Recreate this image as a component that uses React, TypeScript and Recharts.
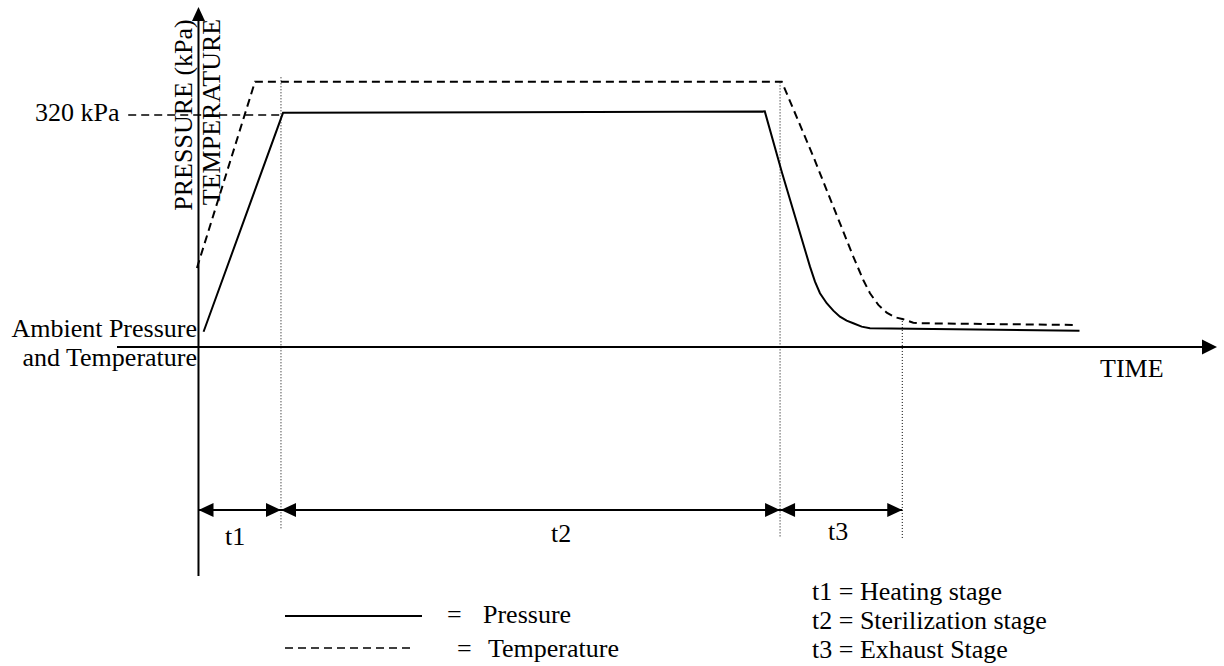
import React from "react";
import {
  LineChart,
  Line,
  XAxis,
  YAxis,
  ReferenceLine,
  ReferenceDot,
} from "recharts";

// time in arbitrary units, level in kPa-ish units (0 = time axis)
const pressureTime = [0.5, 8.3, 55.6, 57.3, 60.04, 60.53, 61.02, 61.68, 62.33, 62.98, 63.64, 64.29, 65.11, 65.93, 86.5];
const pressureLevel = [21, 323, 325, 240, 110.8, 90.1, 74.1, 60.3, 50.1, 41.8, 36.3, 32.7, 28.0, 25.8, 22.5];

const temperatureTime = [-0.15, 5.55, 57.27, 60.37, 62.33, 64.29, 65.27, 65.93, 66.75, 67.57, 68.39, 69.2, 70.18, 70.84, 86.2];
const temperatureLevel = [109, 366, 366, 262.5, 193.5, 124.6, 92.4, 74.1, 58.0, 47.3, 41.0, 38.2, 33.5, 32.7, 30.3];

const stageNames = ["t1", "t2", "t3"];
const stageEnds = [8.1, 57.1, 69.1];
const stageGuideTop = [372, 365, 40];
const stageGuideBottom = [-252, -262, -266];
const stageDescriptions = ["Heating stage", "Sterilization stage", "Exhaust Stage"];

const sterilizationPressure = 320;
const arrowRow = -225;

const X_DOMAIN: [number, number] = [-8, 100];
const Y_DOMAIN: [number, number] = [-316, 469];

const pressureData = pressureTime.map((t, i) => ({ t, v: pressureLevel[i] }));
const temperatureData = temperatureTime.map((t, i) => ({ t, v: temperatureLevel[i] }));

const FONT = '"Liberation Serif", "Times New Roman", serif';

const arrowRight = (len: number, half: number) => (p: any) =>
  <path d={`M${p.cx},${p.cy} L${p.cx - len},${p.cy - half} L${p.cx - len},${p.cy + half} Z`} fill="#000" />;
const arrowLeft = (len: number, half: number) => (p: any) =>
  <path d={`M${p.cx},${p.cy} L${p.cx + len},${p.cy - half} L${p.cx + len},${p.cy + half} Z`} fill="#000" />;
const arrowUp = (len: number, half: number) => (p: any) =>
  <path d={`M${p.cx},${p.cy} L${p.cx - half},${p.cy + len} L${p.cx + half},${p.cy + len} Z`} fill="#000" />;

export default function App() {
  const stageStarts = [0, ...stageEnds.slice(0, -1)];
  const labelX = [225, 551, 828];
  const labelY = [545, 542, 540];

  return (
    <div style={{ position: "absolute", left: 0, top: 0, width: 1224, height: 666, background: "#fff" }}>
      <LineChart
        width={1224}
        height={666}
        margin={{ top: 7, right: 7, bottom: 90, left: 117 }}
      >
        <XAxis type="number" dataKey="t" domain={X_DOMAIN} hide allowDataOverflow />
        <YAxis type="number" dataKey="v" domain={Y_DOMAIN} hide allowDataOverflow />

        {/* axes */}
        <ReferenceLine segment={[{ x: X_DOMAIN[0], y: 0 }, { x: 98.6, y: 0 }]} stroke="#000" strokeWidth={2} ifOverflow="visible" />
        <ReferenceDot x={X_DOMAIN[1]} y={0} r={1} shape={arrowRight(15, 7.5)} ifOverflow="visible" />
        <ReferenceLine segment={[{ x: 0, y: Y_DOMAIN[0] }, { x: 0, y: 452 }]} stroke="#000" strokeWidth={2} ifOverflow="visible" />
        <ReferenceDot x={0} y={Y_DOMAIN[1]} r={1} shape={arrowUp(14, 6.5)} ifOverflow="visible" />

        {/* 320 kPa marker */}
        <ReferenceLine
          segment={[{ x: -6.9, y: sterilizationPressure }, { x: 8.1, y: sterilizationPressure }]}
          stroke="#000"
          strokeWidth={1.5}
          strokeDasharray="8 5"
          ifOverflow="visible"
        />

        {/* stage guides */}
        {stageEnds.map((t, i) => (
          <ReferenceLine
            key={`g${i}`}
            segment={[{ x: t, y: stageGuideTop[i] }, { x: t, y: stageGuideBottom[i] }]}
            stroke="#000"
            strokeWidth={1}
            strokeDasharray="1 2"
            ifOverflow="visible"
          />
        ))}

        {/* stage arrows */}
        {stageEnds.map((t, i) => (
          <ReferenceLine
            key={`a${i}`}
            segment={[{ x: stageStarts[i], y: arrowRow }, { x: t, y: arrowRow }]}
            stroke="#000"
            strokeWidth={2}
            ifOverflow="visible"
          />
        ))}
        {stageEnds.map((t, i) => (
          <ReferenceDot key={`l${i}`} x={stageStarts[i]} y={arrowRow} r={1} shape={arrowLeft(15, 7)} ifOverflow="visible" />
        ))}
        {stageEnds.map((t, i) => (
          <ReferenceDot key={`r${i}`} x={t} y={arrowRow} r={1} shape={arrowRight(15, 7)} ifOverflow="visible" />
        ))}

        <Line
          data={temperatureData}
          dataKey="v"
          type="linear"
          stroke="#000"
          strokeWidth={2}
          strokeDasharray="8 5"
          dot={false}
          isAnimationActive={false}
        />
        <Line
          data={pressureData}
          dataKey="v"
          type="linear"
          stroke="#000"
          strokeWidth={2}
          dot={false}
          isAnimationActive={false}
        />
      </LineChart>

      <svg
        width={1224}
        height={666}
        style={{ position: "absolute", left: 0, top: 0, pointerEvents: "none" }}
        fontFamily={FONT}
        fontSize={26}
        fill="#000"
      >
        <text x={35} y={121}>320 kPa</text>
        <text x={197} y={337} textAnchor="end">Ambient Pressure</text>
        <text x={197} y={366} textAnchor="end">and Temperature</text>
        <text x={1100} y={377}>TIME</text>
        <text transform="translate(192,115) rotate(-90)" textAnchor="middle">PRESSURE (kPa)</text>
        <text transform="translate(220,112) rotate(-90)" textAnchor="middle">TEMPERATURE</text>

        {stageNames.map((n, i) => (
          <text key={n} x={labelX[i]} y={labelY[i]}>{n}</text>
        ))}

        {/* legend */}
        <line x1={285} y1={616} x2={422} y2={616} stroke="#000" strokeWidth={2} />
        <text x={447} y={623}>=</text>
        <text x={483} y={623}>Pressure</text>
        <line x1={285} y1={648} x2={415} y2={648} stroke="#000" strokeWidth={1.5} strokeDasharray="8 5" />
        <text x={457} y={657}>=</text>
        <text x={488} y={657}>Temperature</text>

        {stageNames.map((n, i) => (
          <text key={`d${n}`} x={812} y={600 + i * 29}>{`${n} = ${stageDescriptions[i]}`}</text>
        ))}
      </svg>
    </div>
  );
}
